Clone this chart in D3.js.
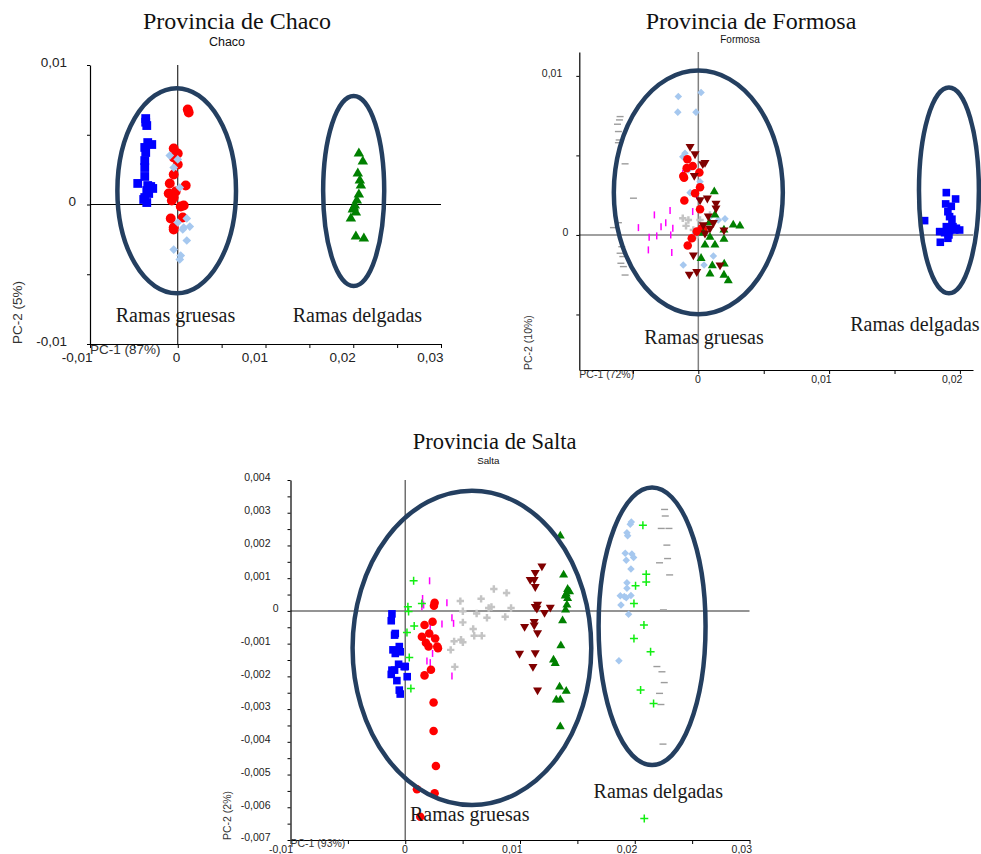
<!DOCTYPE html>
<html>
<head>
<meta charset="utf-8">
<script src="https://cdn.jsdelivr.net/npm/d3@7"></script>
<style>
  body { margin: 0; background: #fff; }
  svg { display: block; }
</style>
</head>
<body>
<div id="chart-area"></div>
<script>
// ---------- Chaco ----------
const chacoSquares = [[-0.00365,0.00616],[-0.00353,0.00566],[-0.00365,0.0059],[-0.00376,0.00409],[-0.00342,0.00444],[-0.00296,0.0043],[-0.00365,0.00373],[-0.00376,0.00315],[-0.00376,0.00265],[-0.00376,0.00201],[-0.00456,0.00151],[-0.00342,0.00136],[-0.00285,0.00115],[-0.00308,0.00129],[-0.00353,0.001],[-0.00331,0.00079],[-0.00376,0.0005],[-0.00388,0.00036],[-0.00353,0.00014]];
const chacoCircles = [[0.00114,0.00681],[0.00125,0.0066],[-0.00046,0.00401],[0,0.00366],[-0.00046,0.00337],[0,0.00287],[-0.00046,0.00215],[-0.00091,0.00151],[0.00091,0.00136],[-0.00103,0.00079],[-0.00023,0.00093],[-0.00046,0.0005],[-0.00068,0.00029],[0.00068,-0.00007],[0.00034,-0.00014],[0.00057,-0.00093],[-0.0008,-0.001],[-0.00046,-0.00165],[-0.00046,-0.00179]];
const chacoDiamonds = [[-0.00091,0.00351],[0,0.00323],[-0.00046,0.00265],[0.00023,0.00122],[0,-0.00129],[0.00103,-0.001],[0.00068,-0.00165],[0.00137,-0.00158],[0.00057,-0.00179],[0.00103,-0.00258],[-0.00046,-0.00323],[0.00034,-0.00366],[0.00023,-0.00394]];
const chacoTriangles = [[0.02064,0.00366],[0.02109,0.00308],[0.02052,0.00222],[0.02075,0.00172],[0.02087,0.00136],[0.02064,0.00072],[0.02041,0.00029],[0.02018,-0.00007],[0.02007,-0.00022],[0.01995,-0.00036],[0.0203,-0.00057],[0.01973,-0.001],[0.0203,-0.00229],[0.02121,-0.00244]];
const chacoEllipses = [[-0.00012,0.00099,0.00676,0.00735],[0.02005,0.00097,0.00348,0.00681]];
const chacoXMajor = [-0.01,0,0.01,0.02,0.03];
const chacoXLabels = ["-0,01","0","0,01","0,02","0,03"];
const chacoXMinor = [-0.005,0.005,0.015,0.025];
const chacoYMajor = [0.01,0,-0.01];
const chacoYLabels = ["0,01","0","-0,01"];
const chacoYMinor = [0.005,-0.005];
const chacoGroupLabels = [["Ramas gruesas",-0.00026,-0.0084],["Ramas delgadas",0.02048,-0.0084]];

// ---------- Formosa ----------
const formosaSquares = [[0.01896,0.00266],[0.01967,0.00226],[0.01891,0.00195],[0.01934,0.0018],[0.01908,0.00146],[0.01921,0.00115],[0.01939,0.00099],[0.0173,0.0009],[0.01896,0.00052],[0.01947,0.00052],[0.01973,0.00042],[0.01998,0.00031],[0.01845,0.00021],[0.01883,0.00014],[0.01921,0.00027],[0.01908,-0.00021],[0.0185,-0.00046],[0.0196,0.00031],[0.01916,0]];
const formosaDiamonds = [[-0.00153,0.0087],[0.00021,0.00895],[-0.00157,0.00772],[-0.00018,0.00772],[-0.00119,0.00492],[-0.00102,0.00514],[-0.00076,0.00409],[0.00013,0.00335],[-0.00063,0.00266],[0.00204,0.00101],[0.00153,0.00094],[-0.00115,-0.00189],[0.00044,-0.00189],[0.00115,-0.00132],[0.00089,0.00115],[-0.00025,0.00011]];
const formosaCircles = [[-0.00084,0.00476],[-0.00043,0.00434],[-0.00089,0.0042],[-0.00115,0.00371],[-0.00109,0.0036],[0.00008,0.00392],[0.00013,0.003],[-0.00107,0.00216],[-0.00025,0.00262],[0.00013,0.00162],[-0.00081,-0.00067],[0.00038,0.00031],[-0.00012,0.00021],[0.00026,0.00042],[-0.0005,-0.00021]];
const formosaDownTriangles = [[-0.00063,0.00555],[-0.00025,0.00509],[0.00051,0.00455],[0.00034,0.00447],[-0.00031,0.00373],[0.00013,0.0022],[0.00069,0.00231],[0.00135,0.00199],[0.00135,0.00168],[0.00076,0.00119],[0.00115,0.00077],[0.00038,0.00063],[0.00089,0.00042],[0.00196,0.00031],[-0.00038,-0.00126],[0.00166,-0.00189],[-0.00069,-0.00247],[-0.00012,-0.00231],[0.00051,0.00011]];
const formosaTriangles = [[0.00122,0.00272],[0.00127,0.00126],[0.00267,0.00063],[0.00318,0.00057],[0.00084,0.00077],[0.00196,0.00031],[0.00089,-0.00014],[0.00051,-0.00063],[0.00127,-0.00063],[0.00196,-0.00027],[0.00021,-0.00147],[0.00107,-0.00193],[0.00198,-0.00182],[0.00089,-0.00245],[0.00196,-0.00252],[0.00229,-0.00287],[0.00038,0.00011]];
const formosaGrayCrosses = [[-0.00119,0.00105],[-0.00076,0.00094],[-0.00094,0.00057],[-0.00038,0.00031],[0.00013,0.00094],[0.00064,0.00057],[0.00026,0.00031],[0.00089,0.00126],[0.00051,0.00011],[-0.00025,-0.00014]];
const formosaMagentaDashes = [[-0.00336,0.00126],[-0.00216,0.00153],[-0.00285,0.00052],[-0.00249,0.00077],[-0.00195,0.00042],[-0.00458,0.00046],[-0.00376,-0.00014],[-0.00318,-0.00006],[-0.00211,0],[-0.00382,-0.00094],[-0.00203,-0.00111],[-0.00119,0.00388],[-0.00012,0.00245],[-0.00043,0.00147],[-0.00063,-0.00021]];
const formosaGrayDashes = [[-0.00598,0.00744],[-0.00603,0.00723],[-0.00618,0.00696],[-0.00611,0.0065],[-0.00605,0.00597],[-0.00611,0.0058],[-0.0056,0.00447],[-0.00496,0.00231],[-0.00649,0.00046],[-0.00611,0.00077],[-0.00585,-0.00074],[-0.00577,-0.00136],[-0.00592,-0.00178],[-0.0056,-0.00252],[-0.00573,-0.00199],[-0.00598,-0.00115]];
const formosaEllipses = [[0,0.00267,0.00646,0.00766],[0.01916,0.0028,0.00229,0.00647]];
const formosaXMajor = [0,0.01,0.02];
const formosaXLabels = ["0","0,01","0,02"];
const formosaXMinor = [-0.005,0.005,0.015];
const formosaYMajor = [0.01,0];
const formosaYLabels = ["0,01","0"];
const formosaYMinor = [0.005,-0.005];
const formosaGroupLabels = [["Ramas gruesas",0.00044,-0.00686],["Ramas delgadas",0.01656,-0.00604]];

// ---------- Salta ----------
const saltaSquares = [[-0.00116,-0.00009],[-0.00122,-0.0003],[-0.00087,-0.00069],[-0.00093,-0.00074],[-0.00052,-0.00109],[-0.00044,-0.00125],[-0.00107,-0.00119],[-0.00087,-0.0013],[-0.00058,-0.00163],[0,-0.0017],[-0.00122,-0.00194],[-0.00116,-0.00181],[-0.00073,-0.00213],[-0.00052,-0.00242],[-0.00044,-0.00254],[0.00017,-0.00201],[-0.00009,-0.0017],[-0.00093,-0.00181]];
const saltaCircles = [[0.00256,0.00025],[0.0025,0.00016],[0.00238,-0.00033],[0.00168,-0.00043],[0.00209,-0.00069],[0.00145,-0.00079],[0.0018,-0.00097],[0.00203,-0.00109],[0.00261,-0.00084],[0.00279,-0.00109],[0.00285,-0.00114],[0.00224,-0.0018],[0.00168,-0.00197],[0.00247,-0.0028],[0.00247,-0.00367],[0.00267,-0.00474],[0.00256,-0.00557],[0.00102,-0.00545],[0.00131,-0.00629]];
const saltaGreenPlus = [[0.00073,0.00092],[0.00023,0.00013],[0.00029,-0.00002],[0.00145,0.00023],[0.00078,-0.00046],[0.00015,-0.00066],[0.00035,-0.00142],[0.00049,-0.00237],[0.02071,0.00262],[0.021,0.00112],[0.021,0.00088],[0.02007,0.00077],[0.01993,0.00023],[0.0208,-0.00043],[0.01993,-0.00084],[0.02138,-0.00125],[0.02051,-0.00242],[0.02164,-0.00283],[0.02083,-0.00634]];
const saltaMagentaDashes = [[0.00212,0.00092],[0.00151,0.00038],[0.0016,0.00018],[0.00363,0.00025],[0.0032,-0.0004],[0.00407,-0.00021],[0.00421,-0.00038],[0.00218,-0.0005],[0.00232,-0.00079],[0.00189,-0.00153],[0.00218,-0.00158],[0.00238,-0.0013],[0.00407,-0.00199],[0.00145,0.00013]];
const saltaGrayCrosses = [[0.0048,0.0003],[0.00661,0.00037],[0.00772,0.00067],[0.00883,0.00055],[0.00502,-0.00001],[0.00622,-0.00008],[0.00712,-0.00021],[0.00727,0.00009],[0.00751,0.00012],[0.00922,0.00009],[0.00871,-0.00018],[0.00502,-0.00035],[0.00592,-0.00055],[0.00601,-0.00076],[0.00667,-0.00076],[0.00426,-0.00093],[0.00486,-0.00088],[0.00502,-0.00096],[0.00396,-0.00119],[0.00432,-0.00171]];
const saltaDownTriangles = [[0.01191,0.00137],[0.01133,0.00117],[0.01089,0.00096],[0.01124,0.00096],[0.01133,0.00074],[0.01153,0.0002],[0.01133,0.00013],[0.01147,0.00008],[0.01264,0.00011],[0.01214,-0.00005],[0.0104,-0.00048],[0.01124,-0.00033],[0.01124,-0.00043],[0.01153,-0.00067],[0.00996,-0.0013],[0.01133,-0.00128],[0.01113,-0.0017],[0.01153,-0.00242]];
const saltaTriangles = [[0.01351,0.00229],[0.0138,0.0011],[0.01415,0.00066],[0.01403,0.00052],[0.01415,0.00038],[0.01394,0.00046],[0.01432,0.00059],[0.01409,0.00018],[0.01397,0.00003],[0.01371,-0.0003],[0.01356,-0.00106],[0.01292,-0.0015],[0.01307,-0.0016],[0.01345,-0.00232],[0.01403,-0.00245],[0.01316,-0.00272],[0.01351,-0.00272],[0.01351,-0.00354]];
const saltaDiamonds = [[0.0197,0.00272],[0.01961,0.00265],[0.01932,0.00239],[0.01938,0.0023],[0.01917,0.00176],[0.01975,0.00174],[0.0199,0.00163],[0.01926,0.00155],[0.01967,0.00128],[0.01932,0.00086],[0.01932,0.00069],[0.01874,0.00046],[0.01926,0.0004],[0.01967,0.00047],[0.0188,0.00018],[0.01946,-0.0001],[0.01862,-0.00152],[0.01909,0.00044]];
const saltaGrayDashes = [[0.0226,0.0031],[0.02266,0.0029],[0.02231,0.00252],[0.02298,0.00252],[0.0228,0.00201],[0.02286,0.0016],[0.02216,0.00147],[0.02304,0.0011],[0.0225,0.00003],[0.02193,-0.0017],[0.02237,-0.00186],[0.02257,-0.00219],[0.02216,-0.00252],[0.02228,-0.00286],[0.02246,-0.00407]];
const saltaEllipses = [[0.00581,-0.00113,0.0104,0.0048],[0.02151,-0.00047,0.00466,0.00424]];
const saltaXMajor = [-0.01,0,0.01,0.02,0.03];
const saltaXLabels = ["-0,01","0","0,01","0,02","0,03"];
const saltaXMinor = [-0.005,0.005,0.015,0.025];
const saltaYMajor = [0.004,0.003,0.002,0.001,0,-0.001,-0.002,-0.003,-0.004,-0.005,-0.006,-0.007];
const saltaYLabels = ["0,004","0,003","0,002","0,001","0","-0,001","-0,002","-0,003","-0,004","-0,005","-0,006","-0,007"];
const saltaYMinor = [0.0035,0.0025,0.0015,0.0005,-0.0005,-0.0015,-0.0025,-0.0035,-0.0045,-0.0055,-0.0065];
const saltaGroupLabels = [["Ramas gruesas",0.00562,-0.00642],["Ramas delgadas",0.02205,-0.00572]];

const W = 981, H = 854;
const sans = "'Liberation Sans', Arial, sans-serif";
const serif = "'Liberation Serif', 'Times New Roman', serif";
const ellipseColor = "#243f60";

const svg = d3.select("#chart-area")
    .append("svg")
    .attr("width", W)
    .attr("height", H)
    .style("background", "#fff");

const panels = [
    {
        title: "Provincia de Chaco", sub: "Chaco", titlePos: [237, 29], titleSize: 24, subPos: [227, 46], subSize: 12.5,
        xRange: [90, 441], yRange: [344, 65], xDomain: [-0.01, 0.03], yDomain: [-0.01, 0.01],
        xMajor: chacoXMajor, xLabels: chacoXLabels, xMinor: chacoXMinor,
        yMajor: chacoYMajor, yLabels: chacoYLabels, yMinor: chacoYMinor,
        font: 13.5, xLabelDy: 18, yGap: 23, zeroGap: 14,
        xName: "PC-1 (87%)", xNameY: 354, yName: "PC-2 (5%)", yNameX: 22,
        zeroColor: "#000", zeroWidth: 1, ms: 1.1, groupSize: 20,
        ellipses: chacoEllipses, groups: chacoGroupLabels,
        series: [
            ["square", chacoSquares], ["circle", chacoCircles],
            ["diamond", chacoDiamonds], ["triangle", chacoTriangles]
        ]
    },
    {
        title: "Provincia de Formosa", sub: "Formosa", titlePos: [751, 29], titleSize: 24, subPos: [740, 43], subSize: 10,
        xRange: [579.3, 973], yRange: [370, 52], xDomain: [-0.0091, 0.021], yDomain: [-0.00849, 0.0115],
        xMajor: formosaXMajor, xLabels: formosaXLabels, xMinor: formosaXMinor,
        yMajor: formosaYMajor, yLabels: formosaYLabels, yMinor: formosaYMinor,
        font: 10.5, xLabelDy: 13, yGap: 17, zeroGap: 11,
        xName: "PC-1 (72%)", xNameY: 378, yName: "PC-2 (10%)", yNameX: 532,
        zeroColor: "#808080", zeroWidth: 1.5, ms: 0.95, groupSize: 20,
        ellipses: formosaEllipses, groups: formosaGroupLabels,
        series: [
            ["hdash", formosaGrayDashes], ["vdash", formosaMagentaDashes],
            ["grayCross", formosaGrayCrosses], ["diamond", formosaDiamonds],
            ["circle", formosaCircles], ["triangle", formosaTriangles],
            ["triangleDown", formosaDownTriangles], ["square", formosaSquares]
        ]
    },
    {
        title: "Provincia de Salta", sub: "Salta", titlePos: [494.7, 449], titleSize: 22.5, subPos: [488.3, 463.5], subSize: 9.8,
        xRange: [290.5, 749.5], yRange: [840, 480], xDomain: [-0.01, 0.03], yDomain: [-0.007, 0.004],
        xMajor: saltaXMajor, xLabels: saltaXLabels, xMinor: saltaXMinor,
        yMajor: saltaYMajor, yLabels: saltaYLabels, yMinor: saltaYMinor,
        font: 10.5, xLabelDy: 12.5, yGap: 20, zeroGap: 12,
        xName: "PC-1 (93%)", xNameY: 847, yName: "PC-2 (2%)", yNameX: 231,
        zeroColor: "#707070", zeroWidth: 1.5, ms: 0.95, groupSize: 20,
        ellipses: saltaEllipses, groups: saltaGroupLabels,
        series: [
            ["hdash", saltaGrayDashes], ["grayCross", saltaGrayCrosses],
            ["vdash", saltaMagentaDashes], ["square", saltaSquares],
            ["circle", saltaCircles], ["triangleDown", saltaDownTriangles],
            ["triangle", saltaTriangles], ["diamond", saltaDiamonds],
            ["greenPlus", saltaGreenPlus]
        ]
    }
];

const labelFor = (majors, labels) => v => {
    const i = majors.findIndex(m => Math.abs(m - v) < 1e-9);
    return i < 0 ? "" : labels[i];
};

function drawMarks(g, x, y, kind, pts, ms) {
    const sel = g.append("g").attr("class", kind)
        .selectAll("path")
        .data(pts)
        .enter()
        .append("path")
        .attr("transform", d => `translate(${x(d[0])},${y(d[1])})`);

    if (kind === "square") {
        sel.attr("d", d3.symbol(d3.symbolSquare, Math.pow(8 * ms, 2))).attr("fill", "#0000ff");
    } else if (kind === "circle") {
        sel.attr("d", d3.symbol(d3.symbolCircle, Math.PI * Math.pow(4.5 * ms, 2))).attr("fill", "#ff0000");
    } else if (kind === "diamond") {
        sel.attr("d", d3.symbol(d3.symbolSquare, Math.pow(5.6 * ms, 2)))
            .attr("transform", d => `translate(${x(d[0])},${y(d[1])}) rotate(45)`)
            .attr("fill", "#a6c8ef");
    } else if (kind === "triangle") {
        sel.attr("d", d3.symbol(d3.symbolTriangle, 0.433 * Math.pow(9.5 * ms, 2))).attr("fill", "#008000");
    } else if (kind === "triangleDown") {
        sel.attr("d", d3.symbol(d3.symbolTriangle, 0.433 * Math.pow(9.5 * ms, 2)))
            .attr("transform", d => `translate(${x(d[0])},${y(d[1])}) rotate(180)`)
            .attr("fill", "#800000");
    } else if (kind === "grayCross") {
        sel.attr("d", d3.symbol(d3.symbolCross, 30)).attr("fill", "#c4c4c4");
    } else if (kind === "greenPlus") {
        sel.attr("d", "M-4,0H4M0,-4V4").attr("fill", "none")
            .attr("stroke", "#11ee11").attr("stroke-width", 1.5);
    } else if (kind === "vdash") {
        sel.attr("d", "M0,-3.5V3.5").attr("fill", "none")
            .attr("stroke", "#ff00ff").attr("stroke-width", 1.5);
    } else if (kind === "hdash") {
        sel.attr("d", "M-3.5,0H3.5").attr("fill", "none")
            .attr("stroke", "#9c9c9c").attr("stroke-width", 1.4);
    }
}

panels.forEach(p => {
    const g = svg.append("g");
    const x = d3.scaleLinear().domain(p.xDomain).range(p.xRange);
    const y = d3.scaleLinear().domain(p.yDomain).range(p.yRange);

    // titles
    g.append("text")
        .attr("x", p.titlePos[0]).attr("y", p.titlePos[1])
        .attr("text-anchor", "middle")
        .attr("font-family", serif)
        .attr("font-size", p.titleSize)
        .attr("fill", "#111")
        .text(p.title);
    g.append("text")
        .attr("x", p.subPos[0]).attr("y", p.subPos[1])
        .attr("text-anchor", "middle")
        .attr("font-family", sans)
        .attr("font-size", p.subSize)
        .attr("fill", "#111")
        .text(p.sub);

    // zero lines
    g.append("line")
        .attr("x1", p.xRange[0]).attr("x2", p.xRange[1])
        .attr("y1", y(0)).attr("y2", y(0))
        .attr("stroke", p.zeroColor).attr("stroke-width", p.zeroWidth);
    g.append("line")
        .attr("x1", x(0)).attr("x2", x(0))
        .attr("y1", p.yRange[1]).attr("y2", p.yRange[0])
        .attr("stroke", p.zeroColor).attr("stroke-width", p.zeroWidth);

    // axes
    const xTicks = p.xMajor.concat(p.xMinor);
    const yTicks = p.yMajor.concat(p.yMinor);
    const xAxis = g.append("g")
        .attr("transform", `translate(0,${p.yRange[0]})`)
        .call(d3.axisBottom(x).tickValues(xTicks).tickSize(4).tickSizeOuter(0)
            .tickFormat(labelFor(p.xMajor, p.xLabels)));
    xAxis.selectAll("text")
        .attr("text-anchor", "end")
        .attr("x", 2)
        .attr("y", p.xLabelDy)
        .attr("dy", 0);

    const yAxis = g.append("g")
        .attr("transform", `translate(${p.xRange[0]},0)`)
        .call(d3.axisLeft(y).tickValues(yTicks).tickSize(3).tickSizeOuter(0)
            .tickFormat(labelFor(p.yMajor, p.yLabels)));
    yAxis.selectAll("text")
        .attr("x", d => Math.abs(d) < 1e-12 ? -p.zeroGap : -p.yGap)
        .attr("dy", "0.08em");

    [xAxis, yAxis].forEach(a => {
        a.attr("font-family", sans).attr("font-size", p.font);
        a.select(".domain").attr("stroke", "#000").attr("stroke-width", 1.2);
        a.selectAll(".tick line").attr("stroke", "#000");
        a.selectAll(".tick text").attr("fill", "#222");
    });

    // axis names
    g.append("text")
        .attr("x", p.xRange[0]).attr("y", p.xNameY)
        .attr("font-family", sans).attr("font-size", p.font)
        .attr("fill", "#333")
        .text(p.xName);
    g.append("text")
        .attr("transform", `translate(${p.yNameX},${p.yRange[0]}) rotate(-90)`)
        .attr("font-family", sans).attr("font-size", p.font)
        .attr("fill", "#333")
        .text(p.yName);

    // points
    p.series.forEach(s => drawMarks(g, x, y, s[0], s[1], p.ms));

    // group ellipses
    g.selectAll("ellipse.group")
        .data(p.ellipses)
        .enter()
        .append("ellipse")
        .attr("class", "group")
        .attr("cx", d => x(d[0]))
        .attr("cy", d => y(d[1]))
        .attr("rx", d => x(d[0] + d[2]) - x(d[0]))
        .attr("ry", d => y(d[1]) - y(d[1] + d[3]))
        .attr("fill", "none")
        .attr("stroke", ellipseColor)
        .attr("stroke-width", 4.5);

    g.selectAll("text.group")
        .data(p.groups)
        .enter()
        .append("text")
        .attr("class", "group")
        .attr("x", d => x(d[1]))
        .attr("y", d => y(d[2]))
        .attr("text-anchor", "middle")
        .attr("font-family", serif)
        .attr("font-size", p.groupSize)
        .attr("fill", "#1a1a1a")
        .text(d => d[0]);
});
</script>
</body>
</html>
